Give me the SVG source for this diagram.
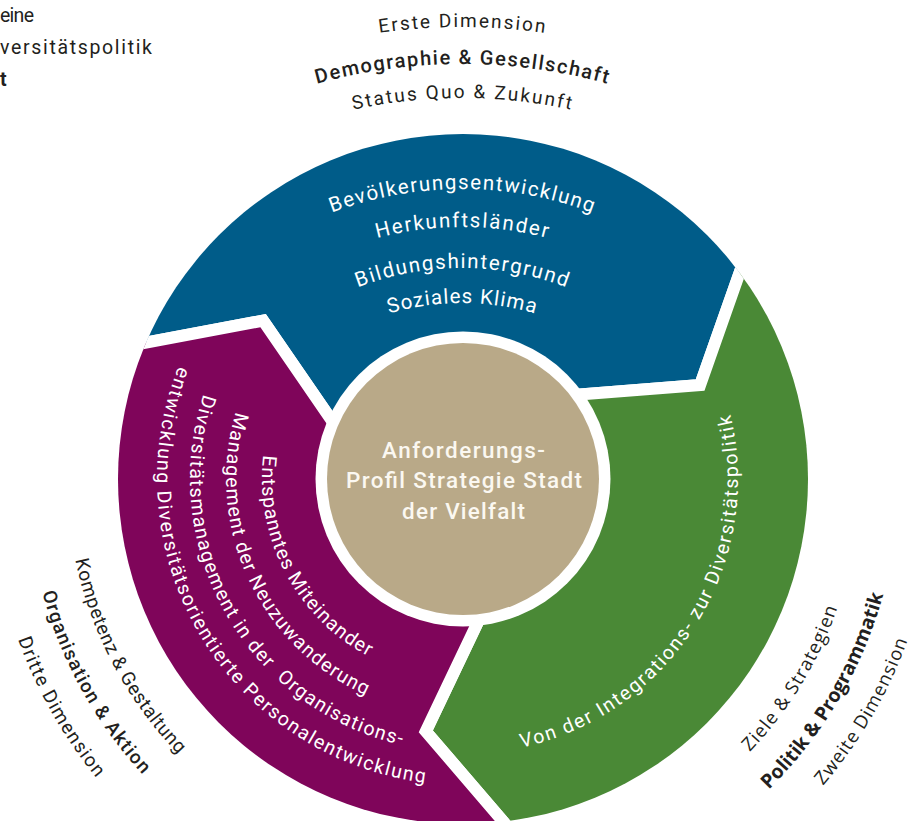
<svg xmlns="http://www.w3.org/2000/svg" xmlns:xlink="http://www.w3.org/1999/xlink" width="917" height="821" viewBox="0 0 917 821">
  <style>
    .seg { stroke: #ffffff; stroke-width: 12; stroke-linejoin: miter; }
    .blue { fill: #005c89; }
    .green { fill: #4a8936; }
    .purple { fill: #7f055a; }
    .in { font-family: Roboto, "Liberation Sans", sans-serif; font-size: 20.5px; fill: #ffffff; text-anchor: middle; }
    .out { font-family: Roboto, "Liberation Sans", sans-serif; font-size: 19px; fill: #231f20; text-anchor: middle; }
    .os { font-family: "Open Sans", "Liberation Sans", sans-serif; font-size: 18.5px; }
    .med { font-weight: 500; }
    .bold { font-weight: 700; }
    .core { font-family: Roboto, "Liberation Sans", sans-serif; font-size: 22.5px; font-weight: 500; fill: #fbf8f1; text-anchor: middle; }
    .cut { font-family: Roboto, "Liberation Sans", sans-serif; font-size: 19.5px; fill: #231f20; }
  </style>
  <defs>
    <clipPath id="ring-clip"><circle cx="463" cy="479" r="345"/></clipPath>
    <!-- clockwise arcs over the top, centred on the origin -->
    <path id="cw-257" d="M-257,0 A257,257 0 0 1 257,0"/>
    <path id="cw-292" d="M-292,0 A292,292 0 0 1 292,0"/>
    <path id="cw-333" d="M-333,0 A333,333 0 0 1 333,0"/>
    <path id="cw-371" d="M-371,0 A371,371 0 0 1 371,0"/>
    <path id="cw-512" d="M-512,0 A512,512 0 0 1 512,0"/>
    <path id="cw-546" d="M-546,0 A546,546 0 0 1 546,0"/>
    <path id="cw-583" d="M-583,0 A583,583 0 0 1 583,0"/>
    <!-- counter-clockwise arcs through the right side, centred on the origin -->
    <path id="ccw-201" d="M0,201 A201,201 0 0 0 0,-201"/>
    <path id="ccw-237" d="M0,237 A237,237 0 0 0 0,-237"/>
    <path id="ccw-273" d="M0,273 A273,273 0 0 0 0,-273"/>
    <path id="ccw-306" d="M0,306 A306,306 0 0 0 0,-306"/>
    <path id="ccw-275" d="M0,275 A275,275 0 0 0 0,-275"/>
    <path id="ccw-396" d="M0,396 A396,396 0 0 0 0,-396"/>
    <path id="ccw-436" d="M0,436 A436,436 0 0 0 0,-436"/>
    <path id="ccw-473" d="M0,473 A473,473 0 0 0 0,-473"/>
  </defs>

  <!-- cropped lines at the upper left edge -->
  <g id="cut-label">
    <text class="cut" x="0" y="22" textLength="34" lengthAdjust="spacing">eine</text>
    <text class="cut" x="0" y="54" textLength="152" lengthAdjust="spacing">versitätspolitik</text>
    <text class="cut bold" x="0" y="86">t</text>
  </g>

  <!-- ring of three arrow segments -->
  <g id="connectors" clip-path="url(#ring-clip)">
    <path class="seg blue" d="M463,479 L342.9,436.7 L263.1,320.6 L75.9,355.7 L40,40 L880,40 L763.3,205.4 L700.1,385.1 L559.7,396.1 Z"/>
    <path class="seg green" d="M463,479 L559.7,396.1 L700.1,385.1 L763.3,205.4 L950,150 L950,950 L549.8,875.9 L425.8,731.3 L486.4,604.2 Z"/>
    <path class="seg purple" d="M463,479 L486.4,604.2 L425.8,731.3 L549.8,875.9 L-50,950 L-50,350 L75.9,355.7 L263.1,320.6 L342.9,436.7 Z"/>
  </g>

  <!-- first dimension: demography & society -->
  <g id="node-demographie">
    <g transform="translate(462 560)">
      <text class="in"><textPath href="#cw-371" startOffset="50%" textLength="266" lengthAdjust="spacing">Bevölkerungsentwicklung</textPath></text>
      <text class="in"><textPath href="#cw-333" startOffset="50%" textLength="172" lengthAdjust="spacing">Herkunftsländer</textPath></text>
      <text class="in"><textPath href="#cw-292" startOffset="50%" textLength="213" lengthAdjust="spacing">Bildungshintergrund</textPath></text>
      <text class="in"><textPath href="#cw-257" startOffset="50%" textLength="148" lengthAdjust="spacing">Soziales Klima</textPath></text>
    </g>
    <g transform="translate(462 610)">
      <text class="out"><textPath href="#cw-583" startOffset="50%" textLength="166" lengthAdjust="spacing">Erste Dimension</textPath></text>
      <text class="out med" style="font-size:20px"><textPath href="#cw-546" startOffset="50%" textLength="294" lengthAdjust="spacing">Demographie &amp; Gesellschaft</textPath></text>
      <text class="out"><textPath href="#cw-512" startOffset="50%" textLength="219" lengthAdjust="spacing">Status Quo &amp; Zukunft</textPath></text>
    </g>
  </g>

  <!-- second dimension: policy & programme -->
  <g id="node-politik">
    <g transform="translate(463 479) rotate(32.05)">
      <text class="in" style="font-size:19.5px"><textPath href="#ccw-275" startOffset="50%" textLength="438" lengthAdjust="spacing">Von der Integrations- zur Diversitätspolitik</textPath></text>
    </g>
    <g transform="translate(463 479) rotate(31.3)">
      <text class="out os"><textPath href="#ccw-396" startOffset="50%" textLength="170" lengthAdjust="spacing">Ziele &amp; Strategien</textPath></text>
    </g>
    <g transform="translate(463 479) rotate(30.4)">
      <text class="out os bold" style="font-size:19.5px"><textPath href="#ccw-436" startOffset="50%" textLength="229" lengthAdjust="spacing">Politik &amp; Programmatik</textPath></text>
    </g>
    <g transform="translate(463 479) rotate(30.2)">
      <text class="out os"><textPath href="#ccw-473" startOffset="50%" textLength="169" lengthAdjust="spacing">Zweite Dimension</textPath></text>
    </g>
  </g>

  <!-- third dimension: organisation & action -->
  <g id="node-organisation">
    <g transform="translate(463 479) rotate(152.5)">
      <text class="in" style="font-size:19.5px"><textPath href="#ccw-201" startOffset="50%" textLength="241" lengthAdjust="spacing">Entspanntes Miteinander</textPath></text>
    </g>
    <g transform="translate(463 479) rotate(155.35)">
      <text class="in" style="font-size:19.5px"><textPath href="#ccw-237" startOffset="50%" textLength="340" lengthAdjust="spacing">Management der Neuzuwanderung</textPath></text>
    </g>
    <g transform="translate(463 479) rotate(150.6)">
      <text class="in" style="font-size:19.5px"><textPath href="#ccw-273" startOffset="50%" textLength="453" lengthAdjust="spacing">Diversitätsmanagement in der&#160; Organisations-</textPath></text>
    </g>
    <g transform="translate(463 479) rotate(149.4)">
      <text class="in" style="font-size:19.5px"><textPath href="#ccw-306" startOffset="50%" textLength="558" lengthAdjust="spacing">entwicklung Diversitätsorientierte Personalentwicklung</textPath></text>
    </g>
    <g transform="translate(463 479) rotate(152.1)">
      <text class="out"><textPath href="#ccw-396" startOffset="50%" textLength="223" lengthAdjust="spacing">Kompetenz &amp; Gestaltung</textPath></text>
    </g>
    <g transform="translate(463 479) rotate(151.1)">
      <text class="out med"><textPath href="#ccw-436" startOffset="50%" textLength="210" lengthAdjust="spacing">Organisation &amp; Aktion</textPath></text>
    </g>
    <g transform="translate(463 479) rotate(150.5)">
      <text class="out"><textPath href="#ccw-473" startOffset="50%" textLength="160" lengthAdjust="spacing">Dritte Dimension</textPath></text>
    </g>
  </g>

  <!-- centre: requirement profile -->
  <g id="node-profil">
    <circle cx="463" cy="479" r="147.5" fill="#ffffff"/>
    <circle cx="463" cy="479" r="136" fill="#b9a988"/>
    <text class="core" x="463.5" y="458" textLength="163" lengthAdjust="spacing">Anforderungs-</text>
    <text class="core" x="464" y="488" textLength="236" lengthAdjust="spacing">Profil Strategie Stadt</text>
    <text class="core" x="463.5" y="519" textLength="123" lengthAdjust="spacing">der Vielfalt</text>
  </g>
</svg>
